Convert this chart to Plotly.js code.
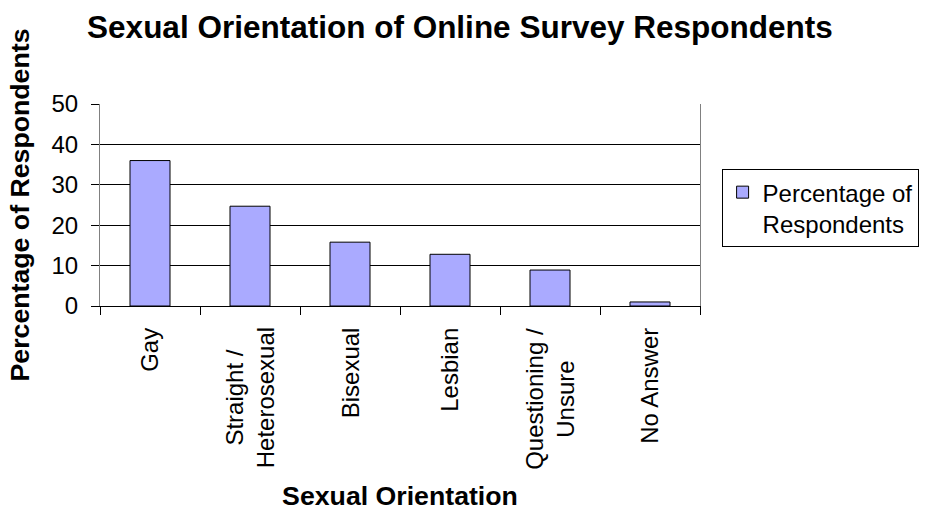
<!DOCTYPE html>
<html>
<head>
<meta charset="utf-8">
<script src="https://cdn.plot.ly/plotly-3.0.1.min.js"></script>
<style>
  html, body { margin: 0; padding: 0; background: #fff; }
  #chart { width: 931px; height: 517px; }
</style>
</head>
<body>
<div id="chart"></div>
<script>
const categories = ["Gay", "Straight /<br>Heterosexual", "Bisexual", "Lesbian", "Questioning /<br>Unsure", "No Answer"];
const percentages = [36, 24.7, 15.8, 12.8, 8.9, 1.0];
const seriesName = "Percentage of<br>Respondents";
const yTicks = [0, 10, 20, 30, 40, 50];

const FONT = "Arial, 'Liberation Sans', sans-serif";

const trace = {
  type: "bar",
  x: categories,
  y: percentages,
  name: seriesName,
  width: 0.4,
  marker: { color: "#AAAAFF", line: { color: "#000000", width: 1 } },
  showlegend: true,
  hoverinfo: "x+y"
};

// category labels, centred multi-line like the original, placed on the x scale
const tickLabels = categories.map(c => ({
  x: c, xref: "x",
  y: -0.098, yref: "paper",
  text: c,
  textangle: -90,
  xanchor: "center",
  yanchor: "top",
  align: "center",
  showarrow: false,
  font: { family: FONT, size: 24, color: "#000000" }
}));

const layout = {
  width: 931,
  height: 517,
  margin: { l: 100, r: 220, t: 104, b: 211, pad: 0 },
  paper_bgcolor: "#ffffff",
  plot_bgcolor: "#ffffff",
  font: { family: FONT, color: "#000000", size: 24 },
  title: {
    text: "<b>Sexual Orientation of Online Survey Respondents</b>",
    font: { family: FONT, size: 31.5, color: "#000000" },
    xref: "container", yref: "container",
    x: 0.494, xanchor: "center",
    y: 0.947, yanchor: "middle"
  },
  xaxis: {
    type: "category",
    tickson: "boundaries",
    ticks: "outside",
    ticklen: 8,
    tickcolor: "#000000",
    showticklabels: false,
    showline: true,
    linecolor: "#000000",
    linewidth: 1,
    mirror: false,
    showgrid: false,
    zeroline: false,
    title: {
      text: "<b>Sexual Orientation</b>",
      font: { family: FONT, size: 26.7, color: "#000000" },
      standoff: 180
    },
    automargin: false
  },
  yaxis: {
    range: [0, 50],
    tickvals: yTicks,
    ticktext: yTicks.map(String),
    ticks: "outside",
    ticklen: 8,
    tickcolor: "#000000",
    ticklabelstandoff: 8,
    showline: true,
    linecolor: "#808080",
    linewidth: 1,
    mirror: true,
    showgrid: true,
    gridcolor: "#000000",
    gridwidth: 1,
    zeroline: false,
    tickfont: { family: FONT, size: 24, color: "#000000" },
    title: {
      text: "<b>Percentage of Respondents</b>",
      font: { family: FONT, size: 26.7, color: "#000000" },
      standoff: 14
    },
    automargin: false
  },
  legend: {
    x: 1.036, xanchor: "left",
    y: 0.678, yanchor: "top",
    bgcolor: "#ffffff",
    bordercolor: "#000000",
    borderwidth: 1,
    font: { family: FONT, size: 24, color: "#000000" },
    valign: "top",
    itemwidth: 30
  },
  annotations: tickLabels,
  showlegend: true
};

Plotly.newPlot("chart", [trace], layout, { displayModeBar: false, staticPlot: true });
</script>
</body>
</html>
